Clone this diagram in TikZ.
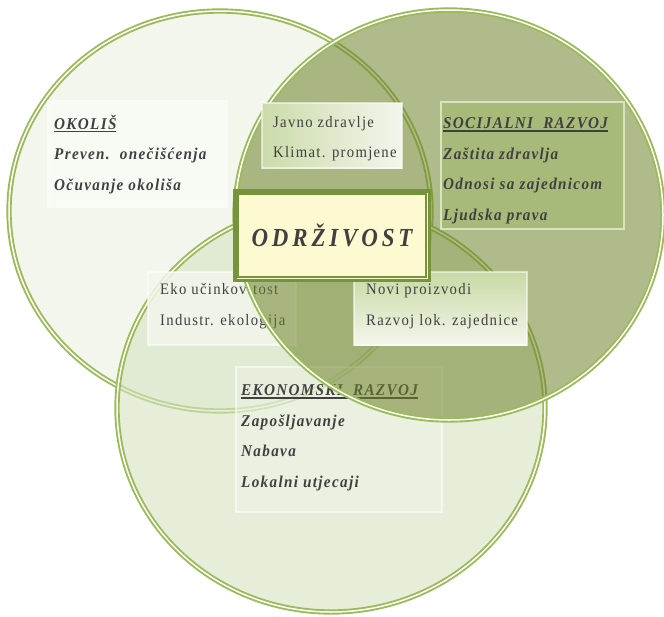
\documentclass[tikz,border=0pt]{standalone}
\usepackage{fontspec}
\setmainfont{Liberation Serif}
\newfontfamily\itemfont[FakeStretch=0.92,LetterSpace=8]{Liberation Serif}
\newfontfamily\corefont[FakeStretch=0.88,LetterSpace=15]{Liberation Serif}

% underlined heading line
\newlength\uheadwd
\newcommand\uhead[1]{\settowidth\uheadwd{#1}\rlap{\rule[-3pt]{\uheadwd}{1.3pt}}#1}

\definecolor{vennline}{HTML}{9BBB59}
\definecolor{okolisfill}{HTML}{F3F6EC}
\definecolor{ekonfill}{HTML}{D5E3C1}
\definecolor{socfill}{HTML}{6E832A}
\definecolor{corefill}{HTML}{FDF9D1}
\definecolor{coreline}{HTML}{77933C}
\definecolor{txtgray}{HTML}{404040}

\begin{document}
\begin{tikzpicture}[x=1pt,y=-1pt,
  ring/.style={draw=vennline,line width=1.9,double=white,double distance=1.5},
  itembox/.style={draw=white,draw opacity=0.55,line width=1.5,inner sep=0},
  itemtext/.style={font=\itemfont\fontsize{16}{30.5}\selectfont,text=txtgray,align=left,inner sep=0,anchor=base west},
  headtext/.style={itemtext,font=\itemfont\fontsize{16.5}{30.5}\selectfont\bfseries\itshape}]
 \useasboundingbox (0,0) rectangle (664,616);

 % okolis and ekonomski circles
 \path[fill=okolisfill] (220,211) ellipse [x radius=211,y radius=200];
 \path[ring] (220,211) ellipse [x radius=211,y radius=200];
 \path[fill=ekonfill,fill opacity=0.6] (331,408) ellipse [x radius=214,y radius=204];
 \path[ring] (331,408) ellipse [x radius=214,y radius=204];

 % boxes lying under the socijalni circle (text placed by last baseline)
 \node[itembox,fill=okolisfill,fill opacity=0.85,minimum width=148,minimum height=73] (eko) at (222,308.5) {};
 \node[itemtext] (eko-t) at (160,325) {Eko učinkovitost\\Industr. ekologija};
 \node[itembox,fill=okolisfill,fill opacity=0.4,minimum width=206,minimum height=145] (ekonomski) at (339,439.5) {};
 \node[headtext] (ekonomski-t) at (241,487) {\uhead{EKONOMSKI~~RAZVOJ}\\Zapošljavanje\\Nabava\\Lokalni utjecaji};

 % socijalni circle
 \path[fill=socfill,fill opacity=0.55] (449,215) ellipse [x radius=214,y radius=205];
 \path[ring] (449,215) ellipse [x radius=214,y radius=205];

 \node[itembox,fill=white,fill opacity=0.45,minimum width=179,minimum height=106] (okolis) at (137.5,154) {};
 \node[headtext] (okolis-t) at (54,190) {\uhead{OKOLIŠ}\\Preven.~~onečišćenja\\Očuvanje okoliša};

 \node[itembox,left color=vennline!45!okolisfill,right color=okolisfill,minimum width=140,minimum height=65] (javno) at (332,135.5) {};
 \node[itemtext,font=\itemfont\fontsize{16}{30}\selectfont] (javno-t) at (273,157) {Javno zdravlje\\Klimat. promjene};

 \node[itembox,draw=vennline!40!white,draw opacity=1,fill=vennline!45!socfill!70!white,minimum width=183,minimum height=127] (socijalni) at (532.5,165.5) {};
 \node[headtext] (socijalni-t) at (443,220) {\uhead{SOCIJALNI~~RAZVOJ}\\Zaštita zdravlja\\Odnosi sa zajednicom\\Ljudska prava};

 \node[itembox,top color=vennline!55!white,bottom color=okolisfill,minimum width=173,minimum height=73] (novi) at (440.5,308.5) {};
 \node[itemtext] (novi-t) at (366,325) {Novi proizvodi\\Razvoj lok. zajednice};

 % central box
 \node[draw=coreline,line width=3.5,fill=corefill,minimum width=194.5,minimum height=89.5,
   font=\corefont\fontsize{26}{30}\selectfont\bfseries\itshape,text=txtgray] (core) at (332,235.5) {ODRŽIVOST};
 \draw[coreline,line width=1.8] ([shift={(5,5)}]core.north west) rectangle ([shift={(-5,-5)}]core.south east);
\end{tikzpicture}
\end{document}
